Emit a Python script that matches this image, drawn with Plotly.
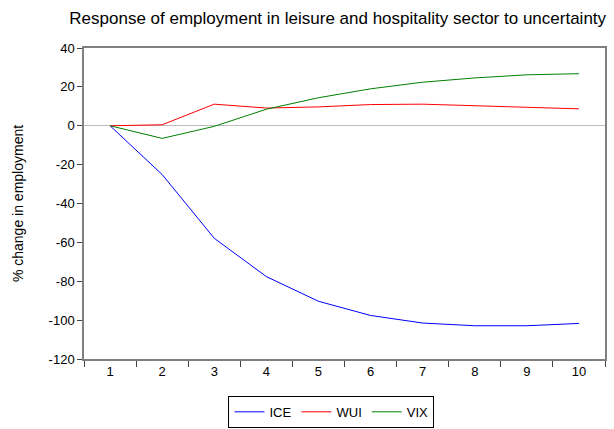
import plotly.graph_objects as go

periods = ["1", "2", "3", "4", "5", "6", "7", "8", "9", "10"]
ice = [0, -25.1, -57.9, -77.6, -90.3, -97.6, -101.5, -102.9, -102.9, -101.7]
wui = [0, 0.5, 11.1, 9.1, 9.7, 10.9, 11.1, 10.4, 9.7, 8.7]
vix = [0, -6.5, -0.3, 8.5, 14.4, 19.0, 22.4, 24.6, 26.2, 26.8]
y_ticks = [40, 20, 0, -20, -40, -60, -80, -100, -120]
y_labels = ["40", "20", "0", "-20", "-40", "-60", "-80", "-100", "-120"]

font = "Liberation Sans, Arial, sans-serif"

fig = go.Figure()
fig.add_trace(go.Scatter(x=periods, y=ice, mode="lines", name="ICE",
                         line=dict(color="#0000FF", width=1)))
fig.add_trace(go.Scatter(x=periods, y=wui, mode="lines", name="WUI",
                         line=dict(color="#FF0000", width=1)))
fig.add_trace(go.Scatter(x=periods, y=vix, mode="lines", name="VIX",
                         line=dict(color="#008000", width=1)))

fig.update_layout(
    width=614, height=429,
    margin=dict(l=84, r=9, t=48, b=70, autoexpand=False),
    paper_bgcolor="white", plot_bgcolor="white",
    font=dict(family=font, size=13, color="black"),
    title=dict(text="Response of employment in leisure and hospitality sector to uncertainty",
               x=0.55, xanchor="center", y=0.958, yanchor="middle",
               font=dict(family=font, size=17, color="black")),
    showlegend=True,
    legend=dict(orientation="h", x=0.475, xanchor="center", y=-0.17, yanchor="middle",
                bordercolor="black", borderwidth=1, bgcolor="white",
                font=dict(family=font, size=13), itemwidth=30, tracegroupgap=0),
)
fig.update_xaxes(type="category", range=[-0.5, 9.5], tickson="boundaries",
                 ticks="outside", ticklen=6, automargin=False,
                 tickcolor="#444", showline=True, linecolor="#808080", linewidth=1.5,
                 mirror=True, showgrid=False, tickfont=dict(size=13))
fig.update_yaxes(range=[-120, 40], tickvals=y_ticks, ticktext=y_labels,
                 ticks="outside", ticklen=5, automargin=False,
                 tickcolor="#444", showline=True, linecolor="#808080", linewidth=1.5,
                 mirror=True, showgrid=False, zeroline=True, zerolinecolor="#BDBDBD",
                 zerolinewidth=1,
                 title=dict(text="% change in employment", font=dict(size=14), standoff=22),
                 tickfont=dict(size=13))

fig.write_html("out.html", config={"displayModeBar": False})

# remove the default body margin so the 614x429 figure fits the window exactly
with open("out.html", "r", encoding="utf-8") as f:
    html = f.read()
html = html.replace("<body>", '<body style="margin:0;padding:0;overflow:hidden">', 1)
with open("out.html", "w", encoding="utf-8") as f:
    f.write(html)
